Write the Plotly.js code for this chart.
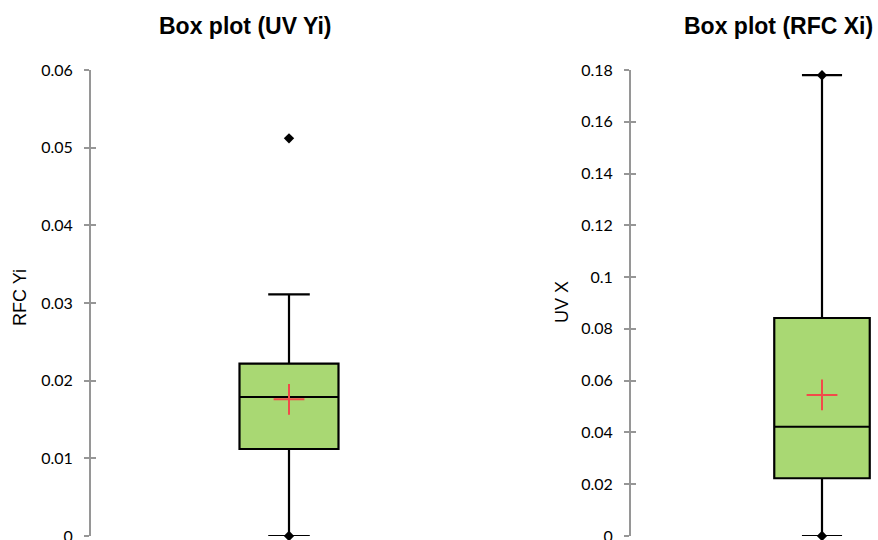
<!DOCTYPE html>
<html>
<head>
<meta charset="utf-8">
<script src="https://cdn.plot.ly/plotly-3.0.1.min.js"></script>
<style>html,body{margin:0;padding:0;background:#fff;}#chart{width:878px;height:540px;}</style>
</head>
<body>
<div id="chart"></div>
<script>
// Left chart: RFC Yi
const leftTitle = "Box plot (UV Yi)";
const leftAxisTitle = "RFC Yi";
const leftStats = {lowerfence: 0, q1: 0.0112, median: 0.0179, q3: 0.0222, upperfence: 0.0311, mean: 0.0176};
const leftOutliers = [0.0512];
const leftMarkers = [0];
const leftTicks = [0, 0.01, 0.02, 0.03, 0.04, 0.05, 0.06];
const leftTickText = ["0", "0.01", "0.02", "0.03", "0.04", "0.05", "0.06"];

// Right chart: UV X
const rightTitle = "Box plot (RFC Xi)";
const rightAxisTitle = "UV X";
const rightStats = {lowerfence: 0, q1: 0.0223, median: 0.0422, q3: 0.0842, upperfence: 0.178, mean: 0.0545};
const rightMarkers = [0, 0.178];
const rightTicks = [0, 0.02, 0.04, 0.06, 0.08, 0.1, 0.12, 0.14, 0.16, 0.18];
const rightTickText = ["0", "0.02", "0.04", "0.06", "0.08", "0.1", "0.12", "0.14", "0.16", "0.18"];

const W = 878, H = 540;
const fillGreen = "#a9d873";
const meanRed = "#f24a4a";
const axisGray = "#969696";
const tickFont = {family: "Lato, 'Liberation Sans', sans-serif", size: 16, color: "#000"};
const textFont = "'Liberation Sans', Arial, sans-serif";

function boxTrace(s, xa, ya) {
  return {
    type: "box", x: [0], xaxis: xa, yaxis: ya,
    q1: [s.q1], median: [s.median], q3: [s.q3],
    lowerfence: [s.lowerfence], upperfence: [s.upperfence],
    width: 0.5, whiskerwidth: 0.42, boxpoints: false,
    fillcolor: fillGreen, line: {color: "#000", width: 2.2},
    hoverinfo: "y", showlegend: false
  };
}
function pts(ys, xa, ya) {
  return {type: "scatter", mode: "markers", x: ys.map(() => 0), y: ys, xaxis: xa, yaxis: ya,
    marker: {symbol: "diamond", size: 8, color: "#000"}, showlegend: false, cliponaxis: false};
}
function meanTrace(m, xa, ya) {
  return {type: "scatter", mode: "markers", x: [0], y: [m], xaxis: xa, yaxis: ya,
    marker: {symbol: "cross-thin", size: 22, line: {color: meanRed, width: 2}}, showlegend: false};
}
function dummy(xa, ya) {
  return {type: "scatter", mode: "none", x: [0], y: [null], xaxis: xa, yaxis: ya, showlegend: false, hoverinfo: "skip"};
}

const traces = [
  boxTrace(leftStats, "x", "y"),
  pts(leftMarkers.concat(leftOutliers), "x", "y"),
  meanTrace(leftStats.mean, "x", "y"),
  boxTrace(rightStats, "x2", "y2"),
  pts(rightMarkers, "x2", "y2"),
  meanTrace(rightStats.mean, "x2", "y2"),
  dummy("x", "y3"),
  dummy("x2", "y4")
];

const yTop = 1 - 70 / H, yBot = 1 - 536 / H;
function yAxis(ticks, text, range, anchor, inside) {
  return {
    domain: [yBot, yTop], range: range, anchor: anchor, fixedrange: true, autorange: false,
    tickmode: "array", tickvals: ticks, ticktext: text,
    showgrid: false, zeroline: false,
    showline: !inside, linecolor: axisGray, linewidth: 2,
    ticks: inside ? "inside" : "outside", ticklen: 5, tickwidth: 2, tickcolor: axisGray,
    showticklabels: !inside, tickfont: tickFont, ticklabelstandoff: 8,
    ticklabeloverflow: "allow"
  };
}
const xHidden = {showline: false, showgrid: false, zeroline: false, showticklabels: false, ticks: "", fixedrange: true};

const layout = {
  width: W, height: H,
  margin: {l: 0, r: 0, t: 0, b: 0, pad: 0},
  paper_bgcolor: "#fff", plot_bgcolor: "rgba(0,0,0,0)",
  showlegend: false,
  xaxis: Object.assign({}, xHidden, {domain: [91 / W, 487 / W], range: [-1, 1], anchor: "y"}),
  xaxis2: Object.assign({}, xHidden, {domain: [631 / W, 1], range: [-1, 247 / 191 - 1], anchor: "y2"}),
  yaxis: yAxis(leftTicks, leftTickText, [0, 0.06], "x", false),
  yaxis2: yAxis(rightTicks, rightTickText, [0, 0.18], "x2", false),
  yaxis3: Object.assign(yAxis(leftTicks, leftTickText, [0, 0.06], "x", true), {overlaying: "y", side: "left"}),
  yaxis4: Object.assign(yAxis(rightTicks, rightTickText, [0, 0.18], "x2", true), {overlaying: "y2", side: "left"}),
  annotations: [
    {text: "<b>" + leftTitle + "</b>", x: 245 / W, y: 1 - 26 / H, xref: "paper", yref: "paper", showarrow: false,
     xanchor: "center", yanchor: "middle", font: {family: textFont, size: 23, color: "#000"}},
    {text: "<b>" + rightTitle + "</b>", x: 778 / W, y: 1 - 26 / H, xref: "paper", yref: "paper", showarrow: false,
     xanchor: "center", yanchor: "middle", font: {family: textFont, size: 23, color: "#000"}},
    {text: leftAxisTitle, x: 20 / W, y: 1 - 298 / H, xref: "paper", yref: "paper", showarrow: false, textangle: -90,
     xanchor: "center", yanchor: "middle", font: {family: textFont, size: 18, color: "#000"}},
    {text: rightAxisTitle, x: 562 / W, y: 1 - 302 / H, xref: "paper", yref: "paper", showarrow: false, textangle: -90,
     xanchor: "center", yanchor: "middle", font: {family: textFont, size: 18, color: "#000"}}
  ]
};

Plotly.newPlot("chart", traces, layout, {staticPlot: true, displayModeBar: false});
</script>
</body>
</html>
